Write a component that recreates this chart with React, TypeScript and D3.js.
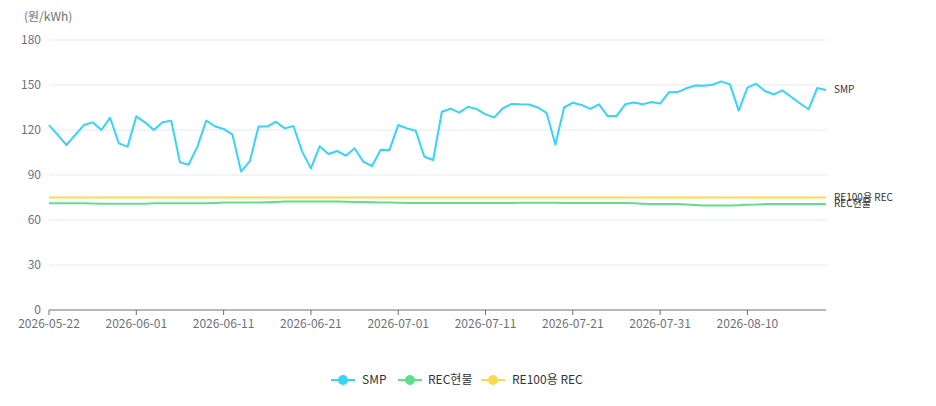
import React from "react";
import * as d3 from "d3";

const startDate = "2026-05-22";
const endDate = "2026-08-19";

const smp = [
  123.3, 116.7, 110, 116.7, 123.3, 125.1, 120, 128.2, 111.1, 108.9,
  129.1, 125.1, 120, 125.1, 126.2, 98.4, 97, 108.9, 126.2, 122.5,
  120.7, 117.1, 92.3, 99.2, 122.3, 122.3, 125.5, 121.1, 122.7, 105.6,
  94.4, 109.1, 104, 106, 102.9, 107.8, 98.9, 96, 106.9, 106.7,
  123.3, 121.1, 119.6, 102.2, 100, 132.2, 134.2, 131.6, 135.5, 133.9,
  130.4, 128.4, 134.5, 137.4, 137.1, 137, 135, 131.4, 110.4, 135,
  138.2, 136.7, 134.1, 137.1, 129.3, 129.3, 137.1, 138.4, 137.1, 138.7,
  137.6, 145.1, 145.3, 147.8, 149.6, 149.5, 150.2, 152.4, 150.4, 132.9,
  148.2, 150.9, 146, 143.8, 146.4, 142.2, 137.8, 133.8, 148, 146.7,
];

const recSpot = [
  71.1, 71.1, 71.1, 71.1, 71.1, 71, 70.8, 70.8, 70.8, 70.8,
  70.8, 70.9, 71.1, 71.1, 71.1, 71.1, 71.1, 71.1, 71.2, 71.4,
  71.6, 71.6, 71.6, 71.6, 71.6, 71.8, 72, 72.3, 72.4, 72.4,
  72.4, 72.4, 72.4, 72.4, 72.2, 72, 72, 71.9, 71.7, 71.6,
  71.5, 71.4, 71.4, 71.4, 71.4, 71.4, 71.4, 71.4, 71.4, 71.4,
  71.4, 71.4, 71.4, 71.4, 71.5, 71.5, 71.5, 71.5, 71.5, 71.4,
  71.4, 71.4, 71.4, 71.4, 71.4, 71.4, 71.3, 71.1, 70.9, 70.7,
  70.7, 70.7, 70.7, 70.4, 70, 69.6, 69.6, 69.6, 69.7, 69.9,
  70.2, 70.3, 70.6, 70.7, 70.7, 70.7, 70.7, 70.7, 70.7, 70.7,
];

const re100Rec = [
  75, 75, 75, 75, 75, 75, 75, 75, 75, 75,
  75, 75, 75, 75, 75, 75, 75, 75, 75, 75,
  75, 75, 75, 75, 75, 75, 75, 75, 75, 75,
  75, 75, 75, 75, 75, 75, 75, 75, 75, 75,
  75, 75, 75, 75, 75, 75, 75, 75, 75, 75,
  75, 75, 75, 75, 75, 75, 75, 75, 75, 75,
  75, 75, 75, 75, 75, 75, 75, 75, 75, 75,
  75, 75, 75, 75, 75, 75, 75, 75, 75, 75,
  75, 75, 75, 75, 75, 75, 75, 75, 75, 75,
];

const yTicks = [0, 30, 60, 90, 120, 150, 180];
const seriesNames = ["SMP", "REC현물", "RE100용 REC"];
const unitLabel = "(원/kWh)";

const fmt = d3.utcFormat("%Y-%m-%d");
const parse = d3.utcParse("%Y-%m-%d");
const dates = d3
  .utcDays(parse(startDate)!, d3.utcDay.offset(parse(endDate)!, 1))
  .map((d) => fmt(d));

const W = 936;
const H = 406;
const left = 49;
const right = 826;
const top = 40;
const bottom = 310;

const colors = ["#36d3fb", "#5fdf8a", "#fdd94e"];
const font = "'Noto Sans CJK KR', 'Noto Sans', sans-serif";

export default function App() {
  const x = d3.scalePoint<string>().domain(dates).range([left, right]);
  const y = d3.scaleLinear().domain([0, 180]).range([bottom, top]);
  const line = d3
    .line<number>()
    .x((_, i) => x(dates[i])!)
    .y((d) => y(d));

  const series = [smp, recSpot, re100Rec];
  const tickIdx = dates.map((_, i) => i).filter((i) => i % 10 === 0);
  const lastI = dates.length - 1;

  const legendItems = [
    { name: seriesNames[0], cx: 343, tx: 362 },
    { name: seriesNames[1], cx: 410, tx: 428 },
    { name: seriesNames[2], cx: 493, tx: 512 },
  ];
  const legendY = 380;

  return (
    <svg
      width={W}
      height={H}
      style={{ position: "absolute", left: 0, top: 0, background: "#fff" }}
      fontFamily={font}
    >
      <text x={24} y={21} fontSize={12} fill="#6e7079">
        {unitLabel}
      </text>
      {yTicks.map((t) => (
        <g key={t}>
          {t !== 0 && (
            <line x1={left} x2={right} y1={y(t)} y2={y(t)} stroke="#e6e9f1" strokeWidth={1} />
          )}
          <text x={41} y={y(t)} dy="0.35em" textAnchor="end" fontSize={12} fill="#6e7079">
            {t}
          </text>
        </g>
      ))}
      <line x1={left} x2={right} y1={bottom} y2={bottom} stroke="#6e7079" strokeWidth={1} />
      {tickIdx.map((i) => (
        <g key={i}>
          <line x1={x(dates[i])} x2={x(dates[i])} y1={bottom} y2={bottom + 5} stroke="#6e7079" />
          <text x={x(dates[i])} y={bottom + 14} dy="0.35em" textAnchor="middle" fontSize={12} fill="#6e7079">
            {dates[i]}
          </text>
        </g>
      ))}
      {[2, 1, 0].map((s) => (
        <path
          key={s}
          d={line(series[s])!}
          fill="none"
          stroke={colors[s]}
          strokeWidth={2}
          strokeLinejoin="round"
        />
      ))}
      {[0, 2, 1].map((s) => (
        <text
          key={s}
          x={x(dates[lastI])! + 8}
          y={y(series[s][lastI])}
          dy="0.35em"
          fontSize={10}
          fill="#333"
        >
          {seriesNames[s]}
        </text>
      ))}
      {legendItems.map((it, s) => (
        <g key={it.name}>
          <line x1={it.cx - 12} x2={it.cx + 12} y1={legendY} y2={legendY} stroke={colors[s]} strokeWidth={2} />
          <circle cx={it.cx} cy={legendY} r={5} fill={colors[s]} />
          <text x={it.tx} y={legendY} dy="0.35em" fontSize={12} fill="#333">
            {it.name}
          </text>
        </g>
      ))}
    </svg>
  );
}
